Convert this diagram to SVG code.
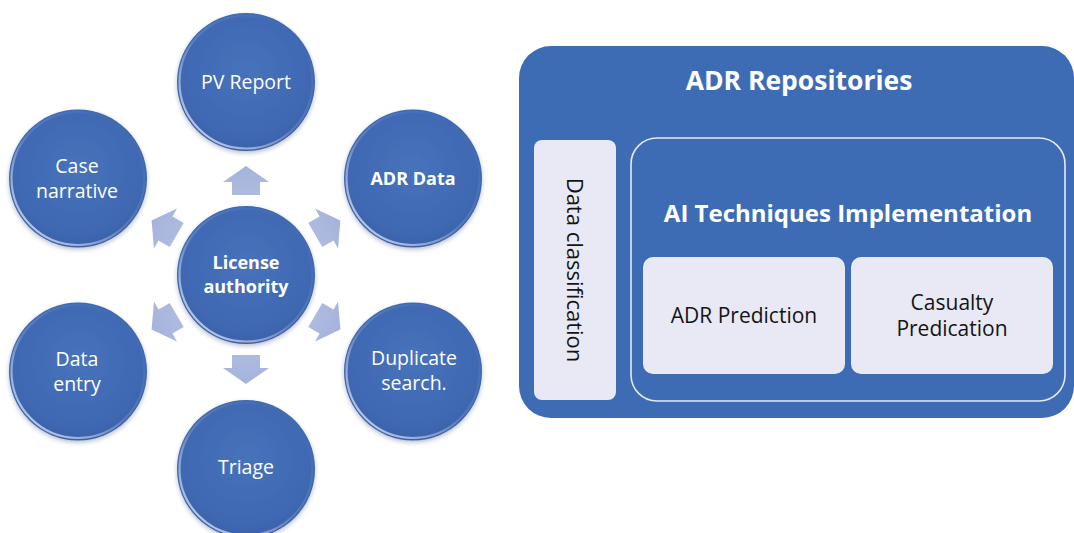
<svg xmlns="http://www.w3.org/2000/svg" xmlns:xlink="http://www.w3.org/1999/xlink" width="1074" height="533" viewBox="0 0 1074 533">
  <style>
    .ball { fill: url(#ballFill); filter: url(#ballShadow); }
    .rim { fill: none; stroke: url(#rimLight); stroke-width: 2.2; }
    .lbl { font-family: "Open Sans", "Liberation Sans", sans-serif; font-size: 19.5px; fill: #ffffff; text-anchor: middle; }
    .lbl-b { font-family: "Open Sans", "Liberation Sans", sans-serif; font-size: 18px; font-weight: 700; fill: #ffffff; text-anchor: middle; }
    .arrow { fill: url(#arrowFill); }
    .panel { fill: #3e6cb4; }
    .frame { fill: none; stroke: #e4eaf5; stroke-width: 1.6; }
    .card { fill: #e8e9f5; }
    .title { font-family: "Open Sans", "Liberation Sans", sans-serif; font-weight: 700; fill: #ffffff; text-anchor: middle; }
    .dark { font-family: "Open Sans", "Liberation Sans", sans-serif; fill: #141414; text-anchor: middle; }
  </style>
  <defs>
    <radialGradient id="ballFill" cx="50%" cy="42%" r="60%">
      <stop offset="0" stop-color="#4773bb"/>
      <stop offset="0.8" stop-color="#3f68b2"/>
      <stop offset="1" stop-color="#3a60a9"/>
    </radialGradient>
    <linearGradient id="rimLight" x1="0.85" y1="0.1" x2="0.15" y2="0.9">
      <stop offset="0" stop-color="#ffffff" stop-opacity="0"/>
      <stop offset="0.55" stop-color="#ffffff" stop-opacity="0.15"/>
      <stop offset="1" stop-color="#dfe8f8" stop-opacity="0.75"/>
    </linearGradient>
    <linearGradient id="arrowFill" x1="0" y1="0" x2="0" y2="1">
      <stop offset="0" stop-color="#a5b2dc"/>
      <stop offset="1" stop-color="#aebbe0"/>
    </linearGradient>
    <filter id="ballShadow" x="-20%" y="-20%" width="140%" height="140%">
      <feDropShadow dx="0" dy="2" stdDeviation="2" flood-color="#1c2f55" flood-opacity="0.3"/>
    </filter>
    <!-- block arrow pointing up out of the hub; rotated copies fan out around (246,275) -->
    <polygon id="blockArrow" points="246,166 269,182 260,182 260,195 232,195 232,182 223,182"/>
  </defs>

  <rect width="1074" height="533" fill="#ffffff"/>

  <!-- arrows from the hub to the satellites -->
  <g id="connectors" class="arrow">
    <use xlink:href="#blockArrow" href="#blockArrow"/>
    <use xlink:href="#blockArrow" href="#blockArrow" transform="rotate(60 246 275)"/>
    <use xlink:href="#blockArrow" href="#blockArrow" transform="rotate(120 246 275)"/>
    <use xlink:href="#blockArrow" href="#blockArrow" transform="rotate(180 246 275)"/>
    <use xlink:href="#blockArrow" href="#blockArrow" transform="rotate(240 246 275)"/>
    <use xlink:href="#blockArrow" href="#blockArrow" transform="rotate(300 246 275)"/>
  </g>

  <!-- hub -->
  <g id="license-authority">
    <circle class="ball" cx="246" cy="275" r="69"/>
    <circle class="rim" cx="246" cy="275" r="66.5"/>
    <text class="lbl-b" x="246" y="269">License</text>
    <text class="lbl-b" x="246" y="293">authority</text>
  </g>

  <!-- satellites -->
  <g id="pv-report">
    <circle class="ball" cx="246" cy="82" r="69"/>
    <circle class="rim" cx="246" cy="82" r="66.5"/>
    <text class="lbl" x="246" y="89">PV Report</text>
  </g>

  <g id="adr-data">
    <circle class="ball" cx="413" cy="178.5" r="69"/>
    <circle class="rim" cx="413" cy="178.5" r="66.5"/>
    <text class="lbl-b" x="413" y="185">ADR Data</text>
  </g>

  <g id="duplicate-search">
    <circle class="ball" cx="413" cy="371.5" r="69"/>
    <circle class="rim" cx="413" cy="371.5" r="66.5"/>
    <text class="lbl" x="414" y="365">Duplicate</text>
    <text class="lbl" x="414" y="390">search.</text>
  </g>

  <g id="triage">
    <circle class="ball" cx="246" cy="469" r="69"/>
    <circle class="rim" cx="246" cy="469" r="66.5"/>
    <text class="lbl" x="246" y="474">Triage</text>
  </g>

  <g id="data-entry">
    <circle class="ball" cx="78" cy="371.5" r="69"/>
    <circle class="rim" cx="78" cy="371.5" r="66.5"/>
    <text class="lbl" x="77" y="366">Data</text>
    <text class="lbl" x="77" y="391">entry</text>
  </g>

  <g id="case-narrative">
    <circle class="ball" cx="78" cy="178.5" r="69"/>
    <circle class="rim" cx="78" cy="178.5" r="66.5"/>
    <text class="lbl" x="77" y="173">Case</text>
    <text class="lbl" x="77" y="198">narrative</text>
  </g>

  <!-- repositories panel -->
  <g id="adr-repositories">
    <rect class="panel" x="519" y="46" width="555" height="372" rx="32" ry="32"/>
    <text class="title" x="799" y="90" font-size="26.5">ADR Repositories</text>
  </g>

  <g id="data-classification">
    <rect class="card" x="534" y="140" width="82" height="260" rx="8" ry="8"/>
    <text class="dark" font-size="22" transform="translate(567 270) rotate(90)">Data classification</text>
  </g>

  <g id="ai-techniques">
    <rect class="frame" x="631" y="138" width="434" height="263" rx="26" ry="26"/>
    <text class="title" x="848" y="222" font-size="24">AI Techniques Implementation</text>
  </g>

  <g id="adr-prediction">
    <rect class="card" x="643" y="257" width="202" height="117" rx="10" ry="10"/>
    <text class="dark" x="744" y="323" font-size="21">ADR Prediction</text>
  </g>

  <g id="casualty-predication">
    <rect class="card" x="851" y="257" width="202" height="117" rx="10" ry="10"/>
    <text class="dark" x="952" y="310" font-size="21">Casualty</text>
    <text class="dark" x="952" y="336" font-size="21">Predication</text>
  </g>
</svg>
